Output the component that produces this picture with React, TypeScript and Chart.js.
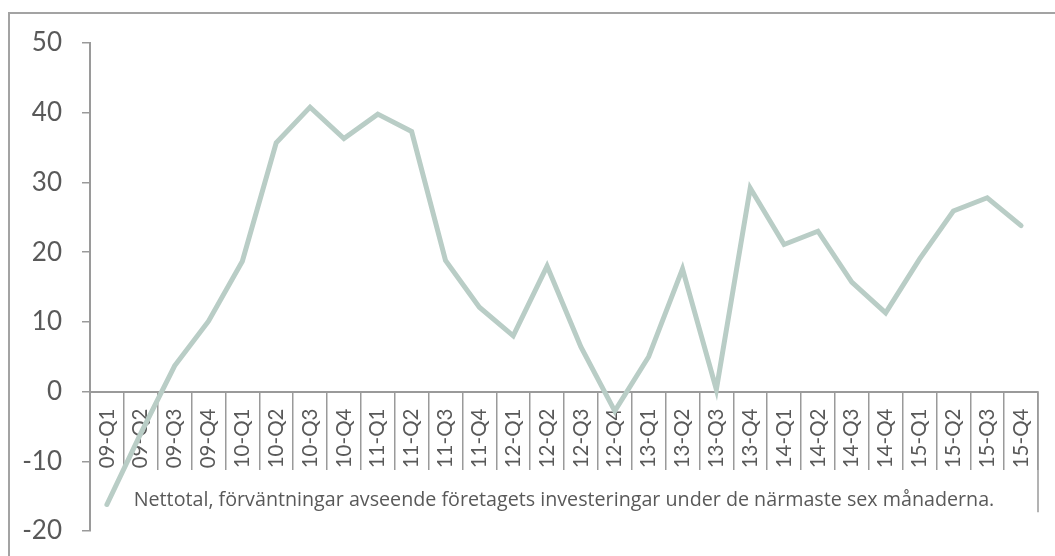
import React, { useEffect, useRef } from "react";
import { Chart, registerables } from "chart.js";

Chart.register(...registerables);

const categories = [
  "09-Q1", "09-Q2", "09-Q3", "09-Q4",
  "10-Q1", "10-Q2", "10-Q3", "10-Q4",
  "11-Q1", "11-Q2", "11-Q3", "11-Q4",
  "12-Q1", "12-Q2", "12-Q3", "12-Q4",
  "13-Q1", "13-Q2", "13-Q3", "13-Q4",
  "14-Q1", "14-Q2", "14-Q3", "14-Q4",
  "15-Q1", "15-Q2", "15-Q3", "15-Q4",
];

const nettotal = [
  -16.2, -6, 3.7, 10.1,
  18.7, 35.7, 40.8, 36.3,
  39.8, 37.3, 18.8, 12.1,
  8.0, 18.0, 6.4, -2.8,
  5.0, 17.6, 0.3, 29.2,
  21.1, 23.0, 15.7, 11.3,
  19.0, 25.9, 27.8, 23.8,
];

const yMin = -20;
const yMax = 50;
const yStep = 10;

const caption =
  "Nettotal, förväntningar avseende företagets investeringar under de närmaste sex månaderna.";

const FONT = "Lato, 'Open Sans', sans-serif";
const CAPTION_FONT = "'Open Sans', Lato, sans-serif";
const TEXT = "#595959";
const AXIS = "#9a9a9a";

const extrasPlugin = {
  id: "extras",
  afterDraw(chart: any) {
    const { ctx, chartArea, scales } = chart;
    const y = scales.y;
    ctx.save();
    ctx.strokeStyle = AXIS;
    ctx.lineWidth = 1.5;
    ctx.beginPath();
    ctx.moveTo(chartArea.right, y.getPixelForValue(0));
    ctx.lineTo(chartArea.right, y.getPixelForValue(-17.3));
    ctx.stroke();
    ctx.restore();
  },
  beforeDatasetsDraw(chart: any) {
    const { ctx, chartArea, scales } = chart;
    ctx.save();
    ctx.fillStyle = TEXT;
    ctx.font = `19.7px ${CAPTION_FONT}`;
    ctx.textAlign = "center";
    ctx.textBaseline = "alphabetic";
    ctx.fillText(caption, (chartArea.left + chartArea.right) / 2, scales.y.getPixelForValue(-16.4));
    ctx.restore();
  },
};

export default function App() {
  const ref = useRef<HTMLCanvasElement>(null);

  useEffect(() => {
    if (!ref.current) return;
    const chart = new Chart(ref.current, {
      type: "line",
      data: {
        labels: categories,
        datasets: [
          {
            data: nettotal,
            borderColor: "#b9cdc6",
            borderWidth: 5,
            pointRadius: 0,
            pointHoverRadius: 0,
            borderCapStyle: "round",
            borderJoinStyle: "miter",
            tension: 0,
            fill: false,
          },
        ],
      },
      options: {
        animation: false,
        responsive: false,
        events: [],
        layout: { padding: { left: 0, right: 17, top: 43, bottom: 25 } },
        plugins: {
          legend: { display: false },
          tooltip: { enabled: false },
          title: { display: false },
        },
        scales: {
          x: {
            type: "category",
            position: { y: 0 } as any,
            offset: true,
            grid: {
              offset: true,
              drawOnChartArea: false,
              drawTicks: true,
              tickLength: 77,
              color: AXIS,
              lineWidth: 1.5,
            },
            border: { display: true, color: AXIS, width: 2 },
            ticks: {
              autoSkip: false,
              minRotation: 90,
              maxRotation: 90,
              padding: -60,
              color: TEXT,
              font: { family: FONT, size: 20.5 },
            },
            afterFit(scale: any) {
              scale.paddingLeft = 0;
              scale.paddingRight = 0;
            },
          },
          y: {
            min: yMin,
            max: yMax,
            afterFit(scale: any) {
              scale.width = 90;
              scale.paddingTop = 0;
              scale.paddingBottom = 0;
            },
            grid: {
              drawOnChartArea: false,
              drawTicks: true,
              tickLength: 8,
              color: AXIS,
              lineWidth: 1.5,
            },
            border: { display: true, color: AXIS, width: 2 },
            ticks: {
              stepSize: yStep,
              padding: 20,
              color: TEXT,
              font: { family: FONT, size: 26 },
            },
          },
        },
      },
      plugins: [extrasPlugin],
    });
    return () => chart.destroy();
  }, []);

  return (
    <div
      style={{
        position: "absolute",
        left: 0,
        top: 0,
        width: 1055,
        height: 556,
        overflow: "hidden",
        background: "#fff",
      }}
    >
      <div
        style={{
          position: "absolute",
          left: 8,
          top: 12,
          width: 1200,
          height: 700,
          borderTop: "2px solid #a3a3a3",
          borderLeft: "2px solid #a3a3a3",
        }}
      />
      <canvas ref={ref} width={1055} height={556} style={{ position: "absolute", left: 0, top: 0 }} />
    </div>
  );
}
